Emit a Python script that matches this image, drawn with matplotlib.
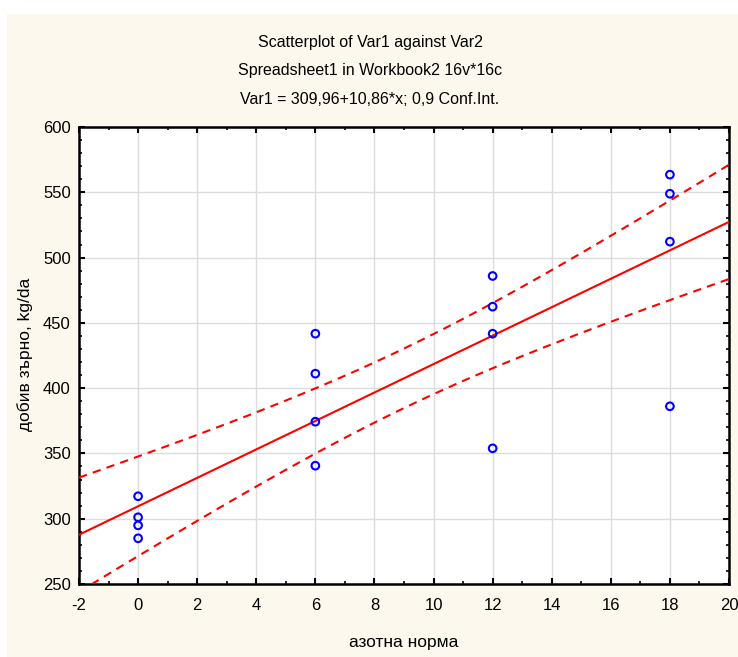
import numpy as np
import matplotlib.pyplot as plt
from matplotlib.patches import Rectangle
from matplotlib.ticker import MultipleLocator

plt.rcParams["font.family"] = ["Liberation Sans", "DejaVu Sans"]
plt.rcParams["axes.unicode_minus"] = False

# nitrogen rate (x) and grain yield (y)
x_vals = [0, 0, 0, 0, 6, 6, 6, 6, 12, 12, 12, 12, 18, 18, 18, 18]
y_vals = [317.2, 301.1, 294.9, 285.0,
          441.7, 411.1, 374.3, 340.6,
          485.9, 462.4, 441.7, 353.9,
          563.5, 548.9, 512.2, 386.1]

titles = ["Scatterplot of Var1 against Var2",
          "Spreadsheet1 in Workbook2 16v*16c",
          "Var1 = 309,96+10,86*x; 0,9 Conf.Int."]
x_label = "азотна норма"
y_label = "добив зърно, kg/da"

x = np.array(x_vals, dtype=float)
y = np.array(y_vals, dtype=float)
n = len(x)

# linear fit and 0.9 confidence band for the mean
slope, intercept = np.polyfit(x, y, 1)
resid = y - (intercept + slope * x)
s = np.sqrt(np.sum(resid ** 2) / (n - 2))
sxx = np.sum((x - x.mean()) ** 2)
t_val = 1.7613  # t(0.95, 14)

xx = np.linspace(-2, 20, 200)
fit = intercept + slope * xx
half = t_val * s * np.sqrt(1 / n + (xx - x.mean()) ** 2 / sxx)

fig = plt.figure(figsize=(7.38, 6.57), dpi=100)
fig.patch.set_facecolor("white")
fig.patches.append(Rectangle((7 / 738, 0), 1, 1 - 14 / 657, transform=fig.transFigure,
                             facecolor="#fdf8ed", edgecolor="none", zorder=-10))

ax = fig.add_axes([79 / 738, 73 / 657, 650 / 738, 457 / 657])
ax.set_facecolor("white")

ax.plot(xx, fit, color="red", lw=1.5, zorder=3)
ax.plot(xx, fit + half, color="red", lw=1.5, ls=(0, (4, 3)), zorder=3)
ax.plot(xx, fit - half, color="red", lw=1.5, ls=(0, (4, 3)), zorder=3)
ax.scatter(x, y, s=30, facecolors="none", edgecolors="blue", linewidths=1.5, zorder=4)

ax.set_xlim(-2, 20)
ax.set_ylim(250, 600)
ax.xaxis.set_major_locator(MultipleLocator(2))
ax.xaxis.set_minor_locator(MultipleLocator(1))
ax.yaxis.set_major_locator(MultipleLocator(50))
ax.yaxis.set_minor_locator(MultipleLocator(10))
ax.grid(True, which="major", color="#dcdcdc", lw=1)
ax.set_axisbelow(True)

ax.tick_params(which="both", direction="in", top=True, right=True, color="black")
ax.tick_params(which="major", length=4, width=1.5, labelsize=12)
ax.tick_params(axis="x", which="major", pad=10)
ax.tick_params(axis="y", which="major", pad=6)
ax.tick_params(which="minor", length=2.5, width=1.2)
for sp in ax.spines.values():
    sp.set_linewidth(1.8)

ax.set_xlabel(x_label, fontsize=12.5, va="center")
ax.set_ylabel(y_label, fontsize=12.5, va="center")
ax.xaxis.set_label_coords(0.5, (584 - 643) / 457)
ax.yaxis.set_label_coords((25 - 79) / 650, (584 - 354) / 457)

for i, t in enumerate(titles):
    fig.text(370 / 738, 1 - (42 + 29 * i) / 657, t, ha="center", va="center", fontsize=11.5)

fig.savefig("out.png", dpi=100)
